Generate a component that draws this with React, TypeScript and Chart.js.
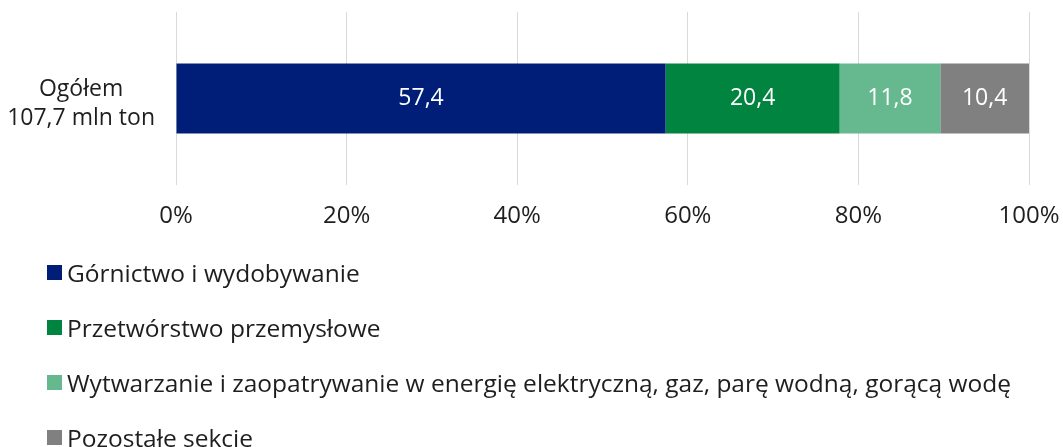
import React, { useEffect, useRef } from "react";
import { Chart, registerables } from "chart.js";

Chart.register(...registerables);

const categories: string[][] = [["Ogółem", "107,7 mln ton"]];
const seriesNames: string[] = [
  "Górnictwo i wydobywanie",
  "Przetwórstwo przemysłowe",
  "Wytwarzanie i zaopatrywanie w energię elektryczną, gaz, parę wodną, gorącą wodę",
  "Pozostałe sekcje",
];
const seriesValues: number[] = [57.4, 20.4, 11.8, 10.4];
const seriesColors: string[] = ["#001E78", "#00843F", "#66B98F", "#808080"];
const xTickStep = 20;
const xMax = 100;

const FONT = "'Open Sans', 'Noto Sans', sans-serif";
const TEXT = "#1e1e1e";

const fmt = (v: number) => v.toFixed(1).replace(".", ",");

const segLabels = {
  id: "segLabels",
  afterDatasetsDraw(chart: any) {
    const ctx = chart.ctx;
    ctx.save();
    ctx.font = `23px ${FONT}`;
    ctx.fillStyle = "#ffffff";
    ctx.textAlign = "center";
    ctx.textBaseline = "middle";
    chart.data.datasets.forEach((ds: any, i: number) => {
      const meta = chart.getDatasetMeta(i);
      meta.data.forEach((el: any, j: number) => {
        const p = el.getCenterPoint();
        ctx.fillText(fmt(ds.data[j]), p.x, p.y);
      });
    });
    ctx.restore();
  },
};

function BarChart() {
  const ref = useRef<HTMLCanvasElement | null>(null);
  useEffect(() => {
    if (!ref.current) return;
    const chart = new Chart(ref.current, {
      type: "bar",
      data: {
        labels: categories,
        datasets: seriesNames.map((name, i) => ({
          label: name,
          data: [seriesValues[i]],
          backgroundColor: seriesColors[i],
          borderWidth: 0,
          barPercentage: 1,
          categoryPercentage: 0.404,
        })),
      },
      options: {
        indexAxis: "y",
        animation: false,
        responsive: true,
        maintainAspectRatio: false,
        layout: { padding: { top: 12, right: 34, left: 0, bottom: 0 } },
        plugins: {
          legend: { display: false },
          tooltip: { enabled: false },
        },
        scales: {
          x: {
            type: "linear",
            stacked: true,
            min: 0,
            max: xMax,
            ticks: {
              stepSize: xTickStep,
              callback: (v: any) => `${v}%`,
              font: { family: FONT, size: 24 },
              color: TEXT,
              padding: 17,
            },
            grid: { color: "#d9d9d9", lineWidth: 1, drawTicks: false },
            border: { display: false },
            afterFit: (scale: any) => {
              scale.paddingLeft = 0;
              scale.paddingRight = 0;
            },
          },
          y: {
            type: "category",
            stacked: true,
            ticks: {
              font: { family: FONT, size: 23, lineHeight: 1.26 },
              color: TEXT,
              crossAlign: "center",
              padding: 13,
              labelOffset: 5,
            },
            grid: { display: false },
            border: { display: false },
            afterFit: (scale: any) => {
              scale.width = 176;
              scale.paddingTop = 0;
              scale.paddingBottom = 0;
            },
          },
        },
      },
      plugins: [segLabels],
    } as any);
    return () => chart.destroy();
  }, []);
  return <canvas ref={ref} />;
}

export default function App() {
  return (
    <div
      style={{
        position: "absolute",
        left: 0,
        top: 0,
        width: 1063,
        height: 447,
        background: "#ffffff",
        fontFamily: FONT,
        overflow: "hidden",
      }}
    >
      <div style={{ position: "absolute", left: 0, top: 0, width: 1063, height: 248 }}>
        <BarChart />
      </div>
      <div style={{ position: "absolute", left: 47, top: 245 }}>
        {seriesNames.map((name, i) => (
          <div
            key={name}
            style={{
              height: 55,
              display: "flex",
              alignItems: "center",
              whiteSpace: "nowrap",
              fontSize: 24.5,
              color: TEXT,
            }}
          >
            <span
              style={{
                display: "inline-block",
                width: 15,
                height: 15,
                background: seriesColors[i],
                marginRight: 5,
              }}
            />
            {name}
          </div>
        ))}
      </div>
    </div>
  );
}
